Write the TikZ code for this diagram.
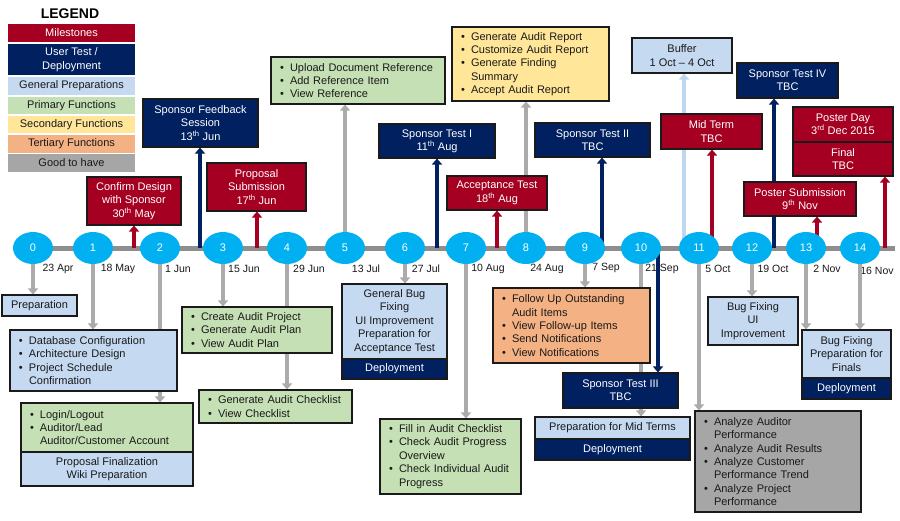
\documentclass[tikz,border=0pt]{standalone}
\usepackage{fontspec}
\setmainfont{Liberation Sans}
\usetikzlibrary{arrows.meta,shapes.geometric}
\definecolor{msred}{HTML}{A50021}
\definecolor{navy}{HTML}{002060}
\definecolor{lblue}{HTML}{C5D9F1}
\definecolor{lgreen}{HTML}{C5E0B4}
\definecolor{lyellow}{HTML}{FFE699}
\definecolor{lorange}{HTML}{F4B183}
\definecolor{dgray}{HTML}{A6A6A6}
\definecolor{agray}{HTML}{ABABAB}
\definecolor{tgray}{HTML}{8E8E8E}
\definecolor{cyanc}{HTML}{00B0F0}
\definecolor{bord}{HTML}{1A1A1A}
\definecolor{txt}{HTML}{1A1A1A}
\definecolor{bufarrow}{HTML}{BDD7EE}
\pgfdeclarelayer{bg}
\pgfsetlayers{bg,main}
\newcommand\bitem[1]{\leftskip=9pt\hangindent=10pt\hangafter=1\noindent\makebox[10pt][l]{\textbullet}#1\par}
\newcommand\thsup[1]{\textsuperscript{#1}}
\tikzset{
  box/.style={draw=bord, line width=1.1pt, inner sep=0pt, align=center, font=\fontsize{11pt}{13.4pt}\selectfont},
  redbox/.style={box, fill=msred, text=white},
  navybox/.style={box, fill=navy, text=white},
  bluebox/.style={box, fill=lblue, text=txt},
  greenbox/.style={box, fill=lgreen, text=txt},
  yellowbox/.style={box, fill=lyellow, text=txt},
  orangebox/.style={box, fill=lorange, text=txt},
  graybox/.style={box, fill=dgray, text=txt},
  blist/.style={align=left},
  leg/.style={inner sep=0pt, align=center, minimum width=127pt, text=txt, font=\fontsize{11pt}{13.4pt}\selectfont},
  circ/.style={ellipse, fill=cyanc, minimum width=40pt, minimum height=32pt, inner sep=0pt, text=white, font=\fontsize{11pt}{13pt}\selectfont},
  dlab/.style={inner sep=0pt, text=txt, font=\fontsize{10.5pt}{12pt}\selectfont},
  tline/.style={draw=tgray, line width=5pt},
  garr/.style={draw=agray, line width=4pt, -{Triangle[length=6pt,width=10pt]}},
  rarr/.style={draw=msred, line width=4pt, -{Triangle[length=6pt,width=10pt]}},
  narr/.style={draw=navy, line width=4pt, -{Triangle[length=6pt,width=10pt]}},
  barr/.style={draw=bufarrow, line width=4pt, -{Triangle[length=6pt,width=10pt]}},
}
\begin{document}
\begin{tikzpicture}[x=1pt,y=-1pt]
\begin{pgfonlayer}{bg}
\fill[white] (0,0) rectangle (900,520);
\end{pgfonlayer}
\useasboundingbox (0,0) rectangle (900,520);

% legend
\node[font=\bfseries\fontsize{14pt}{16pt}\selectfont, text=black, inner sep=0pt] (legt) at (70,14) {LEGEND};
\node[leg, fill=msred, text=white, minimum height=18pt] (l1) at (71.5,33) {Milestones};
\node[leg, fill=navy, text=white, minimum height=31pt] (l2) at (71.5,59.5) {User Test /\\Deployment};
\node[leg, fill=lblue, minimum height=18pt] (l3) at (71.5,86) {General Preparations};
\node[leg, fill=lgreen, minimum height=17pt] (l4) at (71.5,105.5) {Primary Functions};
\node[leg, fill=lyellow, minimum height=17pt] (l5) at (71.5,124.5) {Secondary Functions};
\node[leg, fill=lorange, minimum height=18pt] (l6) at (71.5,144) {Tertiary Functions};
\node[leg, fill=dgray, minimum height=18pt] (l7) at (71.5,163) {Good to have};

% timeline circles
\foreach \i/\x in {0/33,1/93,2/160,3/223,4/287,5/345,6/405,7/466,8/526,9/585,10/641,11/699,12/752,13/806,14/860}
  \node[circ] (c\i) at (\x,248) {\i};
\coordinate (tend) at (895,248);

% top boxes
\node[redbox, minimum width=94pt, minimum height=48pt] (cd) at (134,201) {Confirm Design\\with Sponsor\\30\thsup{th} May};
\node[navybox, minimum width=115pt, minimum height=48pt] (sfs) at (200.5,123) {Sponsor Feedback\\Session\\13\thsup{th} Jun};
\node[redbox, minimum width=99pt, minimum height=48pt] (ps) at (256.5,187) {Proposal\\Submission\\17\thsup{th} Jun};
\node[greenbox, blist, text width=174pt, minimum height=47pt] (upl) at (358,80.5) {\bitem{Upload Document Reference}\bitem{Add Reference Item}\bitem{View Reference}};
\node[yellowbox, blist, text width=157pt, minimum height=74pt] (gar) at (530.5,64) {\bitem{Generate Audit Report}\bitem{Customize Audit Report}\bitem{Generate Finding\newline Summary}\bitem{Accept Audit Report}};
\node[navybox, minimum width=116pt, minimum height=34pt] (st1) at (437,141) {Sponsor Test I\\11\thsup{th} Aug};
\node[redbox, minimum width=100pt, minimum height=34pt] (acc) at (497,193) {Acceptance Test\\18\thsup{th} Aug};
\node[navybox, minimum width=115pt, minimum height=34pt] (st2) at (592.5,140) {Sponsor Test II\\TBC};
\node[bluebox, minimum width=100pt, minimum height=35pt] (buf) at (682,55.5) {Buffer\\1 Oct -- 4 Oct};
\node[redbox, minimum width=101pt, minimum height=35pt] (mt) at (711.5,131.5) {Mid Term\\TBC};
\node[navybox, minimum width=101pt, minimum height=35pt] (st4) at (787.5,80.5) {Sponsor Test IV\\TBC};
\node[redbox, minimum width=100pt, minimum height=35pt] (pd) at (843,124.5) {Poster Day\\3\thsup{rd} Dec 2015};
\node[redbox, minimum width=100pt, minimum height=34pt] (fin) at (843,159) {Final\\TBC};
\node[redbox, minimum width=112pt, minimum height=34pt] (psub) at (800,199) {Poster Submission\\9\thsup{th} Nov};

% bottom boxes
\node[bluebox, minimum width=75pt, minimum height=21pt] (prep) at (39.5,305.5) {Preparation};
\node[bluebox, blist, text width=167pt, minimum height=61pt] (db) at (93.5,360.5) {\bitem{Database Configuration}\bitem{Architecture Design}\bitem{Project Schedule\newline Confirmation}};
\node[greenbox, blist, text width=172pt, minimum height=49pt] (login) at (107,427.5) {\bitem{Login/Logout}\bitem{Auditor/Lead\newline Auditor/Customer Account}};
\node[bluebox, minimum width=172pt, minimum height=34pt] (pf) at (107,469) {Proposal Finalization\\Wiki Preparation};
\node[greenbox, blist, text width=150pt, minimum height=46pt] (cap) at (257,330) {\bitem{Create Audit Project}\bitem{Generate Audit Plan}\bitem{View Audit Plan}};
\node[greenbox, blist, text width=153pt, minimum height=33pt] (gac) at (275.5,406.5) {\bitem{Generate Audit Checklist}\bitem{View Checklist}};
\node[bluebox, minimum width=105pt, minimum height=75pt] (gbf) at (394.5,321.5) {General Bug\\Fixing\\UI Improvement\\Preparation for\\Acceptance Test};
\node[navybox, minimum width=105pt, minimum height=20pt] (dep1) at (394.5,369) {Deployment};
\node[greenbox, blist, text width=141pt, minimum height=75pt] (fia) at (450.5,456.5) {\bitem{Fill in Audit Checklist}\bitem{Check Audit Progress\newline Overview}\bitem{Check Individual Audit\newline Progress}};
\node[orangebox, blist, text width=157pt, minimum height=75pt] (fu) at (571.5,325.5) {\bitem{Follow Up Outstanding\newline Audit Items}\bitem{View Follow-up Items}\bitem{Send Notifications}\bitem{View Notifications}};
\node[navybox, minimum width=115pt, minimum height=35pt] (st3) at (620.5,390.5) {Sponsor Test III\\TBC};
\node[bluebox, minimum width=155pt, minimum height=22pt] (pmt) at (612.5,428) {Preparation for Mid Terms};
\node[navybox, minimum width=155pt, minimum height=21pt] (dep2) at (612.5,449.5) {Deployment};
\node[graybox, blist, text width=166pt, minimum height=101pt] (an) at (778,461.5) {\bitem{Analyze Auditor\newline Performance}\bitem{Analyze Audit Results}\bitem{Analyze Customer\newline Performance Trend}\bitem{Analyze Project\newline Performance}};
\node[bluebox, minimum width=90pt, minimum height=48pt] (bf) at (753,321) {Bug Fixing\\UI\\Improvement};
\node[bluebox, minimum width=89pt, minimum height=48pt] (bff) at (846.5,354) {Bug Fixing\\Preparation for\\Finals};
\node[navybox, minimum width=89pt, minimum height=21pt] (dep3) at (846.5,388.5) {Deployment};

% arrow base points on the timeline
\coordinate (u1) at (134,248);
\coordinate (u2) at (200,248);
\coordinate (u3) at (257,248);
\coordinate (u4) at (437,248);
\coordinate (u5) at (497,248);
\coordinate (u6) at (602,248);
\coordinate (u7) at (684,248);
\coordinate (u8) at (712,248);
\coordinate (u9) at (774,248);
\coordinate (u10) at (817,248);
\coordinate (u11) at (885,248);
\coordinate (u12) at (658,248);

\begin{pgfonlayer}{bg}
\draw[tline] (c0.center) -- (tend);
% dates
\node[dlab] (d0) at (58,269) {23 Apr};
\node[dlab] (d1) at (118,269) {18 May};
\node[dlab] (d2) at (178,269) {1 Jun};
\node[dlab] (d3) at (244,269) {15 Jun};
\node[dlab] (d4) at (309,269) {29 Jun};
\node[dlab] (d5) at (366,269) {13 Jul};
\node[dlab] (d6) at (426,269) {27 Jul};
\node[dlab] (d7) at (488,269) {10 Aug};
\node[dlab] (d8) at (547,269) {24 Aug};
\node[dlab] (d9) at (606,268) {7 Sep};
\node[dlab] (d10) at (662,269) {21 Sep};
\node[dlab] (d11) at (718,269) {5 Oct};
\node[dlab] (d12) at (773,269) {19 Oct};
\node[dlab] (d13) at (827,269) {2 Nov};
\node[dlab] (d14) at (877,271) {16 Nov};
% up arrows
\draw[rarr] (u1) -- (u1 |- cd.south);
\draw[narr] (u2) -- (u2 |- sfs.south);
\draw[rarr] (u3) -- (u3 |- ps.south);
\draw[garr] (c5.north) -- (c5.north |- upl.south);
\draw[narr] (u4) -- (u4 |- st1.south);
\draw[rarr] (u5) -- (u5 |- acc.south);
\draw[garr] (c8.north) -- (c8.north |- gar.south);
\draw[narr] (u6) -- (u6 |- st2.south);
\draw[barr] (u7) -- (u7 |- buf.south);
\draw[rarr] (u8) -- (u8 |- mt.south);
\draw[narr] (u9) -- (u9 |- st4.south);
\draw[rarr] (u10) -- (u10 |- psub.south);
\draw[rarr] (u11) -- (u11 |- fin.south);
% down arrows
\draw[narr] (u12) -- (u12 |- st3.north);
\draw[garr] (c0.south) -- (c0.south |- prep.north);
\draw[garr] (c1.south) -- (c1.south |- db.north);
\draw[garr] (c2.south) -- (c2.south |- login.north);
\draw[garr] (c3.south) -- (c3.south |- cap.north);
\draw[garr] (c4.south) -- (c4.south |- gac.north);
\draw[garr] (c6.south) -- (c6.south |- gbf.north);
\draw[garr] (c7.south) -- (c7.south |- fia.north);
\draw[garr] (c9.south) -- (c9.south |- fu.north);
\draw[garr] (c10.south) -- (c10.south |- pmt.north);
\draw[garr] (c11.south) -- (c11.south |- an.north);
\draw[garr] (c12.south) -- (c12.south |- bf.north);
\draw[garr] (c13.south) -- (c13.south |- bff.north);
\draw[garr] (c14.south) -- (c14.south |- bff.north);
\end{pgfonlayer}
\end{tikzpicture}
\end{document}
